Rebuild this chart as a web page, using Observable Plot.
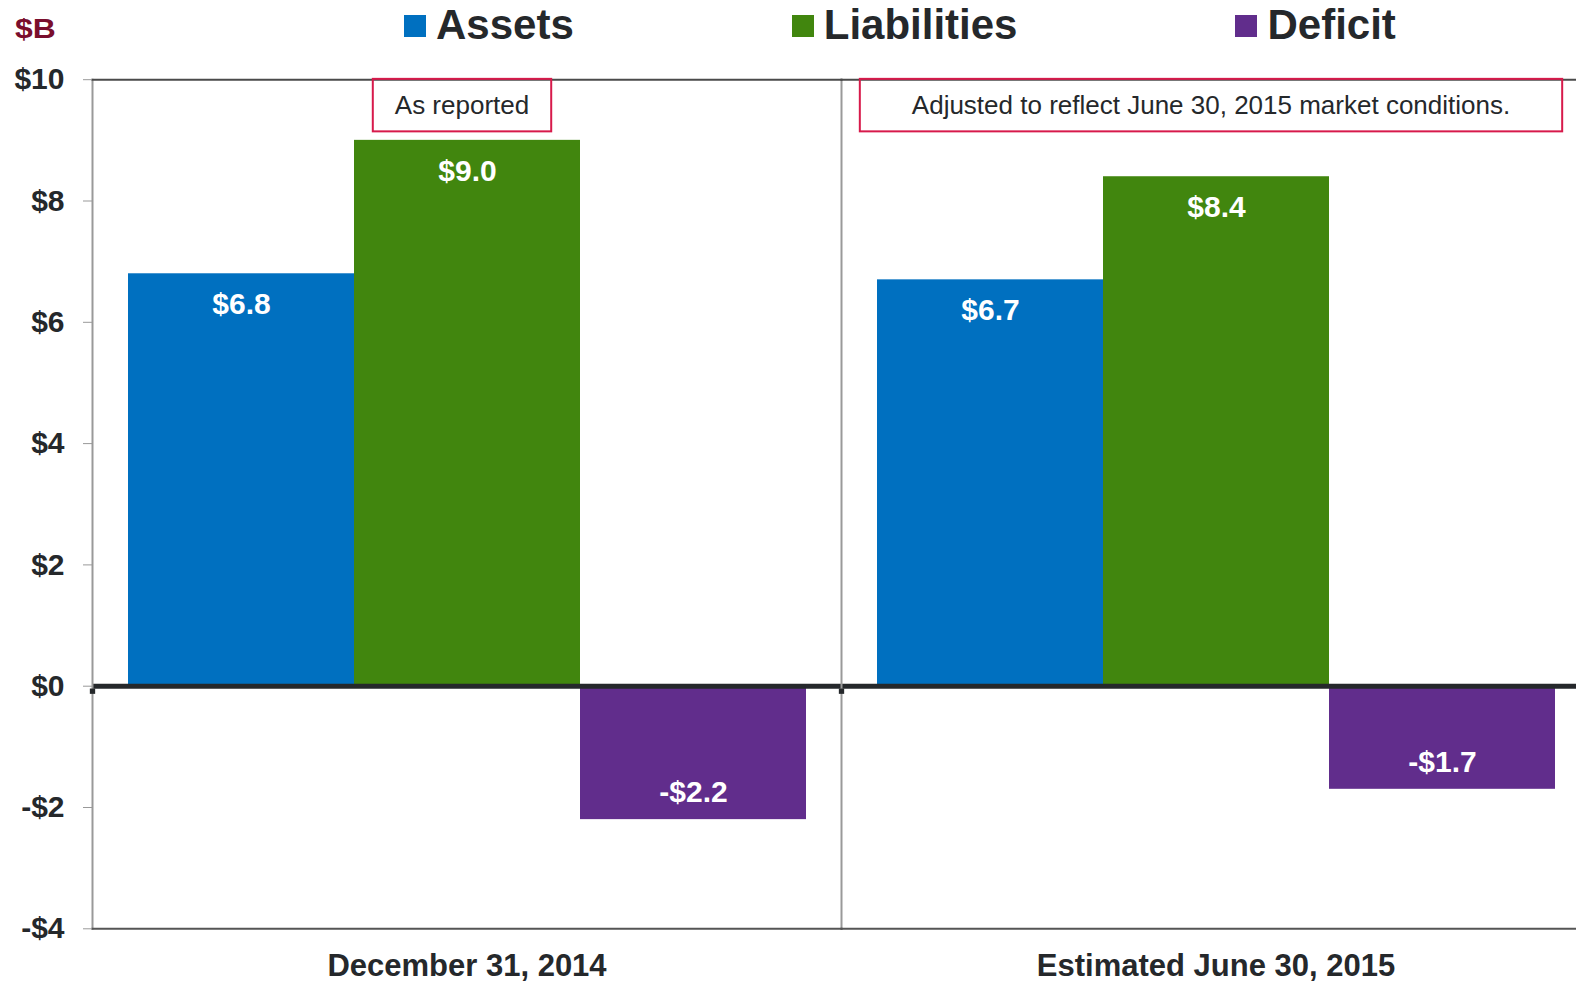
<!DOCTYPE html>
<html>
<head>
<meta charset="utf-8">
<script src="https://cdn.jsdelivr.net/npm/d3@7"></script>
<script src="https://cdn.jsdelivr.net/npm/@observablehq/plot@0.6"></script>
<style>
  html, body { margin: 0; padding: 0; background: #fff; overflow: hidden; }
  #page { position: relative; width: 1576px; height: 984px; overflow: hidden;
          font-family: "Liberation Sans", Arial, sans-serif; color: #25282B; }
  #header { position: relative; height: 50px; }
  #unit { position: absolute; left: 15px; top: 16px; font-size: 27px; line-height: 1;
          font-weight: bold; color: #7A0E2D; transform: scaleX(1.18); transform-origin: left top; }
  #legend { position: absolute; left: 404px; top: 0; display: flex; gap: 218px; align-items: flex-start; }
  .item { position: relative; height: 50px; }
  .sw { position: absolute; left: 0; top: 15px; width: 22px; height: 22px; }
  .lbl { display: block; padding-left: 32px; position: relative; top: 3.5px;
         font-size: 42px; line-height: 1; font-weight: bold; white-space: nowrap; }
  #chart { position: relative; width: 1576px; height: 934px; overflow: hidden; }
  #chart svg { max-width: none !important; width: 1590px !important; height: 934px !important; overflow: hidden; }
</style>
</head>
<body>
<div id="page">
  <div id="header"><div id="unit"></div><div id="legend"></div></div>
  <div id="chart"></div>
</div>
<script>
// ---- data ----
const unitLabel = "$B";
const periods = ["December 31, 2014", "Estimated June 30, 2015"];
const series = ["Assets", "Liabilities", "Deficit"];
const assets = [6.8, 6.7];
const liabilities = [9.0, 8.4];
const deficit = [-2.2, -1.7];
const yTicks = [-4, -2, 0, 2, 4, 6, 8, 10];
const notes = ["As reported", "Adjusted to reflect June 30, 2015 market conditions."];
const colors = ["#0070C0", "#41860E", "#612D8C"];

// ---- style constants ----
const notePadX = [22, 52];
const ink = "#25282B";

const valuesBySeries = [assets, liabilities, deficit];
const rows = [];
periods.forEach((p, i) => series.forEach((s, j) => rows.push({period: p, series: s, value: valuesBySeries[j][i]})));
const noteRows = periods.map((p, i) => ({period: p, note: notes[i]}));
const money = v => (v < 0 ? "-$" : "$") + Math.abs(v);
const money1 = v => (v < 0 ? "-$" : "$") + Math.abs(v).toFixed(1);

// header
document.getElementById("unit").textContent = unitLabel;
const legend = document.getElementById("legend");
series.forEach((s, i) => {
  const it = document.createElement("div"); it.className = "item";
  const sw = document.createElement("span"); sw.className = "sw"; sw.style.background = colors[i];
  const lb = document.createElement("span"); lb.className = "lbl"; lb.textContent = s;
  it.appendChild(sw); it.appendChild(lb); legend.appendChild(it);
});

const chart = Plot.plot({
  width: 1590,
  height: 934,
  marginTop: 29.2,
  marginBottom: 55.7,
  marginLeft: 92,
  marginRight: 0,
  style: {fontFamily: '"Liberation Sans", Arial, sans-serif', background: "white", color: ink},
  fx: {domain: periods, padding: 0, label: null},
  x: {domain: series, paddingInner: 0, paddingOuter: 0.15, axis: null},
  y: {domain: [-4, 10], label: null},
  color: {domain: series, range: colors},
  marks: [
    Plot.barY(rows, {fx: "period", x: "series", y: "value", fill: "series"}),
    Plot.ruleY([0], {stroke: ink, strokeWidth: 5}),
    Plot.frame({anchor: "left", stroke: "#999", strokeWidth: 2}),
    Plot.frame({anchor: "top", stroke: "#4a4a4a", strokeWidth: 2}),
    Plot.frame({anchor: "bottom", stroke: "#555", strokeWidth: 2}),
    Plot.dot([0], {y: d => d, frameAnchor: "left", symbol: "square", r: 3, dy: 5, fill: ink, stroke: null}),
    Plot.axisY({ticks: yTicks, tickFormat: money, tickSize: 9, tickPadding: 19,
                stroke: "#999", fill: ink, fontSize: 30, fontWeight: "bold", label: null}),
    Plot.axisFx({anchor: "bottom", tickSize: 0, tickPadding: 25, fontSize: 31,
                 fontWeight: "bold", fill: ink, label: null}),
    Plot.text(rows.filter(d => d.value >= 0), {fx: "period", x: "series", y: "value",
      text: d => money1(d.value), dy: 31, fill: "white", fontSize: 30, fontWeight: "bold"}),
    Plot.text(rows.filter(d => d.value < 0), {fx: "period", x: "series", y: "value",
      text: d => money1(d.value), dy: -27, fill: "white", fontSize: 30, fontWeight: "bold"}),
    Plot.text(noteRows, {fx: "period", text: "note", frameAnchor: "top", lineAnchor: "top",
      dy: 16, dx: -5, fontSize: 26, fill: ink})
  ]
});
document.getElementById("chart").appendChild(chart);

// boxes around the annotation notes
chart.querySelectorAll("text").forEach(t => {
  const idx = notes.indexOf(t.textContent);
  if (idx < 0) return;
  const bb = t.getBBox();
  const pad = notePadX[idx];
  const r = document.createElementNS("http://www.w3.org/2000/svg", "rect");
  r.setAttribute("x", bb.x - pad);
  r.setAttribute("y", bb.y - 11.3);
  r.setAttribute("width", bb.width + 2 * pad);
  r.setAttribute("height", bb.height + 22.5);
  r.setAttribute("fill", "none");
  r.setAttribute("stroke", "#D71A4B");
  r.setAttribute("stroke-width", 2);
  if (t.getAttribute("transform")) r.setAttribute("transform", t.getAttribute("transform"));
  t.parentNode.insertBefore(r, t);
});
</script>
</body>
</html>
